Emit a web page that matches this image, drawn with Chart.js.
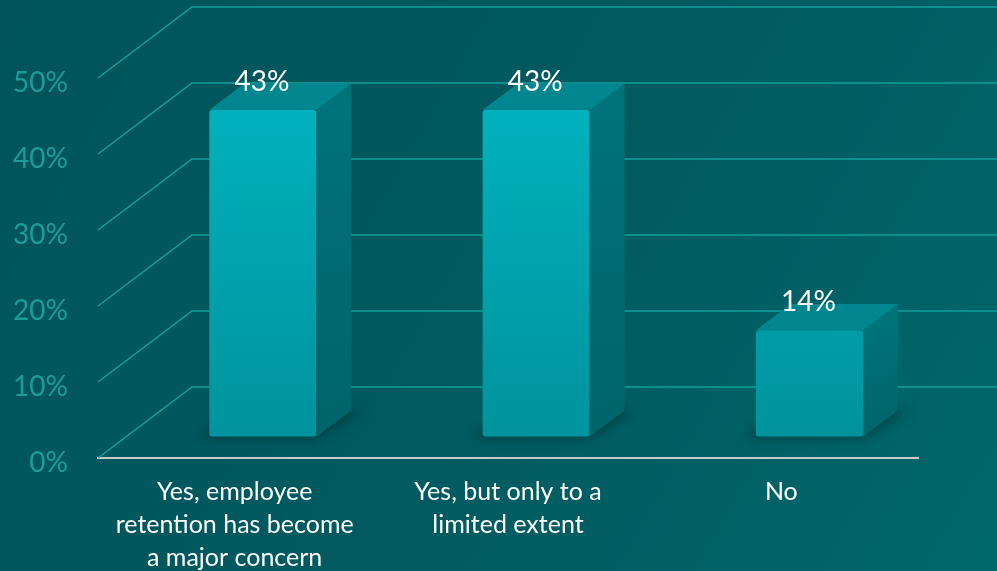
<!DOCTYPE html>
<html>
<head>
<meta charset="utf-8">
<script src="https://cdn.jsdelivr.net/npm/chart.js@4/dist/chart.umd.min.js"></script>
<style>
  html, body { margin: 0; padding: 0; background: #005a5f; }
  #wrap { width: 997px; height: 571px; }
</style>
</head>
<body>
<div id="wrap"><canvas id="retentionChart" width="997" height="571"></canvas></div>
<script>
// --- Datos ---
const categories = [
    ['Yes, employee', 'retention has become', 'a major concern'],
    ['Yes, but only to a', 'limited extent'],
    ['No']
];
const shares = [43, 43, 14];
const tickValues = [0, 10, 20, 30, 40, 50];

// profundidad 3D (pared del fondo) y posición de las barras dentro de ella
const DEPTH_X = 94, DEPTH_Y = 71;
const BAR_FRONT = 0.3, BAR_DEPTH = 0.37;

const fondo = {
    id: 'fondo',
    beforeDraw(chart) {
        const ctx = chart.ctx;
        const g = ctx.createLinearGradient(0, 0, chart.width, chart.height);
        g.addColorStop(0, '#00545a');
        g.addColorStop(0.5, '#005a5f');
        g.addColorStop(1, '#00676b');
        ctx.save();
        ctx.fillStyle = g;
        ctx.fillRect(0, 0, chart.width, chart.height);
        ctx.restore();
    },
    beforeDatasetsDraw(chart) {
        const ctx = chart.ctx;
        const y = chart.scales.y;
        const left = chart.chartArea.left;
        ctx.save();
        ctx.strokeStyle = '#10a09b';
        ctx.lineWidth = 1.5;
        tickValues.forEach(v => {
            const fy = y.getPixelForValue(v);
            ctx.beginPath();
            ctx.moveTo(left, fy);
            ctx.lineTo(left + DEPTH_X, fy - DEPTH_Y);
            ctx.lineTo(chart.width, fy - DEPTH_Y);
            ctx.stroke();
        });
        // sombra suave en el suelo
        const meta = chart.getDatasetMeta(0);
        meta.data.forEach(bar => {
            const l = bar.x - bar.width / 2 + DEPTH_X * BAR_FRONT;
            const b = bar.base - DEPTH_Y * BAR_FRONT;
            ctx.save();
            ctx.filter = 'blur(6px)';
            ctx.fillStyle = 'rgba(0,35,38,0.55)';
            ctx.beginPath();
            ctx.moveTo(l - 12, b + 1);
            ctx.lineTo(l + bar.width, b + 1);
            ctx.lineTo(l + bar.width + DEPTH_X * BAR_DEPTH + 10, b - DEPTH_Y * BAR_DEPTH);
            ctx.lineTo(l + DEPTH_X * BAR_DEPTH - 8, b - DEPTH_Y * BAR_DEPTH);
            ctx.closePath();
            ctx.fill();
            ctx.restore();
        });
        ctx.restore();
        // las caras frontales se dibujan desplazadas hacia el fondo
        ctx.save();
        ctx.translate(DEPTH_X * BAR_FRONT, -DEPTH_Y * BAR_FRONT);
    },
    afterDatasetsDraw(chart) {
        const ctx = chart.ctx;
        ctx.restore();
        const dx = DEPTH_X * BAR_DEPTH, dy = DEPTH_Y * BAR_DEPTH;
        const meta = chart.getDatasetMeta(0);
        ctx.save();
        meta.data.forEach((bar, i) => {
            const l = bar.x - bar.width / 2 + DEPTH_X * BAR_FRONT;
            const r = bar.x + bar.width / 2 + DEPTH_X * BAR_FRONT;
            const t = bar.y - DEPTH_Y * BAR_FRONT;
            const b = bar.base - DEPTH_Y * BAR_FRONT;
            // lado
            const gs = ctx.createLinearGradient(r, t, r + dx, b);
            gs.addColorStop(0, '#00727a');
            gs.addColorStop(1, '#00636a');
            ctx.fillStyle = gs;
            ctx.beginPath();
            ctx.moveTo(r, t);
            ctx.lineTo(r + dx, t - dy);
            ctx.lineTo(r + dx, b - dy);
            ctx.lineTo(r, b);
            ctx.closePath();
            ctx.fill();
            // tapa
            ctx.fillStyle = '#00868e';
            ctx.beginPath();
            ctx.moveTo(l, t);
            ctx.lineTo(l + dx, t - dy);
            ctx.lineTo(r + dx, t - dy);
            ctx.lineTo(r, t);
            ctx.closePath();
            ctx.fill();
            // etiqueta
            ctx.fillStyle = '#ffffff';
            ctx.font = '28px Lato';
            ctx.textAlign = 'center';
            ctx.textBaseline = 'middle';
            ctx.fillText(shares[i] + '%', (l + r) / 2 - 1, t - 28);
        });
        ctx.restore();
    }
};

const canvas = document.getElementById('retentionChart');
new Chart(canvas, {
    type: 'bar',
    data: {
        labels: categories,
        datasets: [{
            data: shares,
            backgroundColor: (c) => {
                const area = c.chart.chartArea;
                if (!area) return '#00aab5';
                const g = c.chart.ctx.createLinearGradient(0, area.top, 0, area.bottom);
                g.addColorStop(0, '#00b6c2');
                g.addColorStop(1, '#00939d');
                return g;
            },
            borderRadius: 3,
            borderSkipped: false,
            barPercentage: 0.392,
            categoryPercentage: 1
        }]
    },
    options: {
        responsive: false,
        animation: false,
        layout: { padding: { top: 78, right: 79, left: 0, bottom: 0 } },
        plugins: {
            legend: { display: false },
            tooltip: { enabled: false }
        },
        scales: {
            x: {
                grid: { display: false, drawTicks: false },
                border: { display: true, color: '#c9c9c9', width: 2 },
                ticks: {
                    color: '#ffffff',
                    padding: 17,
                    maxRotation: 0,
                    autoSkip: false,
                    font: { family: 'Lato', size: 25, lineHeight: 1.32 }
                },
                afterFit: (axis) => { axis.height = 113; }
            },
            y: {
                min: 0,
                max: 50,
                grid: { display: false, drawTicks: false },
                border: { display: false },
                ticks: {
                    stepSize: 10,
                    color: '#1a9c98',
                    padding: 30,
                    labelOffset: 5,
                    font: { family: 'Lato', size: 28 },
                    callback: (v) => v + '%'
                },
                afterFit: (axis) => { axis.width = 98; }
            }
        }
    },
    plugins: [fondo]
});
</script>
</body>
</html>
